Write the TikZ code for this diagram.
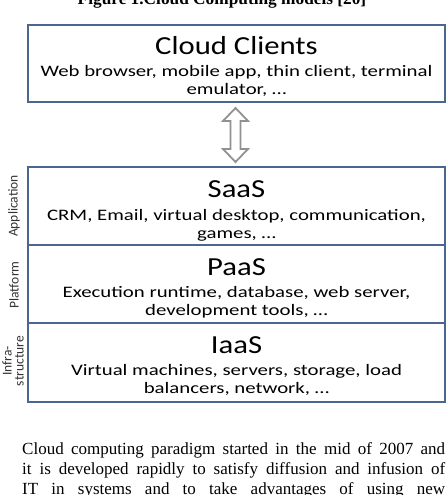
\documentclass[tikz,border=0pt]{standalone}
\usepackage{fontspec}
\setmainfont{Liberation Serif}
\newfontfamily\calw[FakeStretch=1.18]{Carlito}
\newfontfamily\calsub[FakeStretch=1.3]{Carlito}
\newfontfamily\calr{Carlito}
\definecolor{boxblue}{RGB}{74,102,145}
\definecolor{arrowgray}{RGB}{145,145,145}
\begin{document}
\begin{tikzpicture}[x=1pt,y=-1pt,
  layerbox/.style={draw=boxblue,line width=2pt,fill=white},
  ttl/.style={anchor=base,inner sep=0pt,font=\calw\fontsize{26}{30}\selectfont},
  sub/.style={anchor=base,inner sep=0pt,font=\calsub\fontsize{16}{18}\selectfont},
  side/.style={rotate=90,inner sep=0pt,align=center,font=\calr\fontsize{13.5}{12}\selectfont,text=black!80}]
\useasboundingbox (0,0) rectangle (447,495);
% caption (cut off at top)
\node[anchor=base,inner sep=0pt,font=\bfseries\fontsize{17.3}{19}\selectfont] (cap) at (222,4.5) {Figure 1.Cloud Computing models [20]};
% cloud clients box
\draw[layerbox] (28,25) rectangle (444.5,102);
\node[ttl] (cct) at (236.5,55) {Cloud Clients};
\node[sub] (cc1) at (236.5,76) {Web browser, mobile app, thin client, terminal};
\node[sub] (cc2) at (236.5,94) {emulator, \dots};
% double arrow
\draw[arrowgray,line width=1.8pt,fill=white,line join=miter]
  (235.5,108) -- (248,121) -- (240.5,121) -- (240.5,149) -- (248,149) -- (235.5,162)
  -- (223,149) -- (230.5,149) -- (230.5,121) -- (223,121) -- cycle;
% stack
\draw[layerbox] (28,167) rectangle (444.5,402);
\draw[boxblue,line width=2pt] (28,245) -- (444.5,245);
\draw[boxblue,line width=2pt] (28,323) -- (444.5,323);
\node[ttl] (saas) at (236.5,197) {SaaS};
\node[sub] (saas1) at (236.5,220) {CRM, Email, virtual desktop, communication,};
\node[sub] (saas2) at (236.5,238) {games, \dots};
\node[ttl] (paas) at (236.5,275) {PaaS};
\node[sub] (paas1) at (236.5,297) {Execution runtime, database, web server,};
\node[sub] (paas2) at (236.5,315) {development tools, \dots};
\node[ttl] (iaas) at (236.5,353) {IaaS};
\node[sub] (iaas1) at (236.5,375) {Virtual machines, servers, storage, load};
\node[sub] (iaas2) at (236.5,393) {balancers, network, \dots};
% side labels
\node[side] (lapp) at (14,206) {Application};
\node[side] (lplat) at (14,285) {Platform};
\node[side] (linfra) at (13,361) {Infra-\\structure};
% paragraph
\node[anchor=base west,inner sep=0pt,text width=423pt,align=justify,
  font=\fontsize{17}{20}\selectfont] (para) at (22,454)
  {\hyphenpenalty=10000 Cloud computing paradigm started in the mid of 2007 and\linebreak it is developed rapidly to satisfy diffusion and infusion of\linebreak IT in systems and to take advantages of using new\linebreak};
\end{tikzpicture}
\end{document}
